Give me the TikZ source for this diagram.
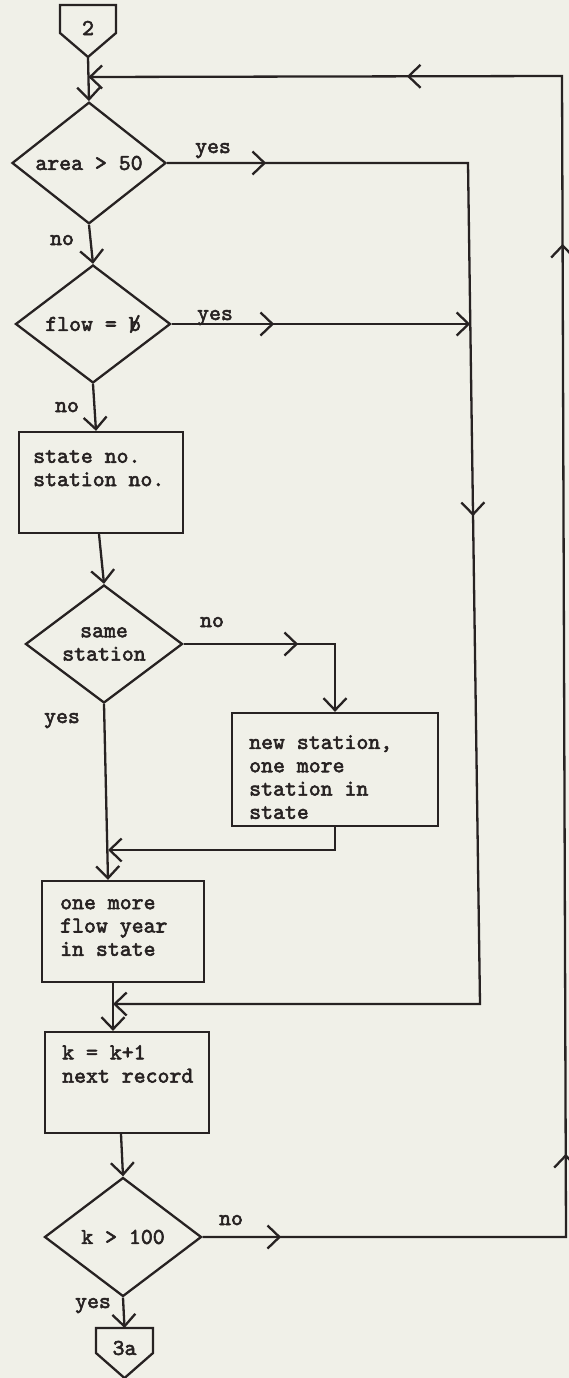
\documentclass[tikz,border=0pt]{standalone}
\usepackage{fontspec}
\newfontfamily\tw{lmmono10-regular.otf}[FakeBold=2.5]
\usetikzlibrary{arrows.meta,shapes.geometric,decorations.markings}

\definecolor{paper}{HTML}{F0F0E8}
\definecolor{ink}{HTML}{272222}

\tikzset{
  >={Straight Barb[length=12pt,width=23pt]},
  /pgf/decoration/mk/.style={mark=at position #1 with {\arrow{>}}},
  along/.style={postaction={decorate, decoration={markings, #1}}},
  ln/.style={draw=ink, line width=2.3pt},
  typed/.style={text=ink, inner sep=0pt, font=\tw\fontsize{22.7}{23.3}\selectfont},
  decision/.style={diamond, draw=ink, line width=2.3pt, typed, align=center},
  blk/.style={rectangle, draw=ink, line width=2.3pt, inner sep=0pt},
  body/.style={typed, align=left, anchor=north west},
  lbl/.style={typed, anchor=base},
}

\begin{document}
\begin{tikzpicture}[x=1pt, y=-1pt, line join=miter]
\useasboundingbox (0,0) rectangle (569,1378);
\fill[paper] (0,0) rectangle (569,1378);

% entry connector
\coordinate (c2tip) at (88,57);
\draw[ln] (60,5) -- (116,5) -- (116,33) -- (c2tip) -- (60,33) -- cycle;
\node[typed] (c2) at (88,28) {2};

% decisions and process blocks
\node[decision, minimum width=154, minimum height=119] (d1) at (89,163) {area > 50};
\node[decision, minimum width=155, minimum height=118] (d2) at (93,324) {flow = \rlap{b}/};

\node[blk, minimum width=164, minimum height=101] (b1) at (101,482.5) {};
\node[body] (b1t) at (33,450) {state no.\\station no.};

\node[decision, minimum width=157, minimum height=118] (d3) at (104,644) {same\\station};

\node[blk, minimum width=206, minimum height=113] (b2) at (335,769.5) {};
\node[body] (b2t) at (249,735) {new station,\\one more\\station in\\state};

\node[blk, minimum width=162, minimum height=101] (b3) at (123,931.5) {};
\node[body] (b3t) at (60,899) {one more\\flow year\\in state};

\node[blk, minimum width=164, minimum height=101] (b4) at (127,1082.5) {};
\node[body] (b4t) at (62,1045) {k = k+1\\next record};

\node[decision, minimum width=157, minimum height=119] (d4) at (123,1237) {k > 100};

% exit connector
\coordinate (c3top) at (124.5,1328);
\draw[ln] (96,1328) -- (153,1328) -- (153,1353) -- (124.5,1378) -- (96,1353) -- cycle;
\node[typed] (c3) at (124.5,1348) {3a};

% branch labels
\node[lbl] (y1) at (213,153) {yes};
\node[lbl] (n1) at (62,245) {no};
\node[lbl] (y2) at (215,320) {yes};
\node[lbl] (n2) at (67,412) {no};
\node[lbl] (n3) at (212,627) {no};
\node[lbl] (y3) at (62,723) {yes};
\node[lbl] (n4) at (231,1225) {no};
\node[lbl] (y4) at (93,1308) {yes};

% junctions and corners
\coordinate (j0) at (88.4,77);
\coordinate (ot) at (562,76);
\coordinate (ob) at (566,1237);
\coordinate (it) at (468,163);
\coordinate (ib) at (480,1004);
\coordinate (im) at (470.3,324);
\coordinate (j4) at (113,1004);
\coordinate (nc) at (335,644);
\coordinate (bc) at (335,850);
\coordinate (j3) at (108,850);

% main column
\draw[ln,->] (c2tip) -- (d1.north);
\draw[ln,->] (d1.south) -- (d2.north);
\draw[ln,->] (d2.south) -- ([xshift=-5]b1.north);
\draw[ln,->] ([xshift=-2]b1.south) -- (d3.north);
\draw[ln,->] (d3.south) -- ([xshift=-15]b3.north);
\draw[ln,->] ([xshift=-10]b3.south) -- ([xshift=-14]b4.north);
\draw[ln,->] ([xshift=-6]b4.south) -- (d4.north);
\draw[ln,->] (d4.south) -- (c3top);

% new station branch
\draw[ln,->, along={mk=114.5pt}] (d3.east) -- (nc) -- (b2.north);
\draw[ln,->] (b2.south) -- (bc) -- (j3);

% skip paths
\draw[ln,->, along={mk=99pt, mk=654pt}] (d1.east) -- (it) -- (ib) -- (j4);
\draw[ln,->, along={mk=102.5pt}] (d2.east) -- (im);

% loop back
\draw[ln,->, along={mk=78.5pt, mk=446.5pt, mk=1356.5pt, mk=1679.5pt}]
  (d4.east) -- (ob) -- (ot) -- (j0);
\end{tikzpicture}
\end{document}
